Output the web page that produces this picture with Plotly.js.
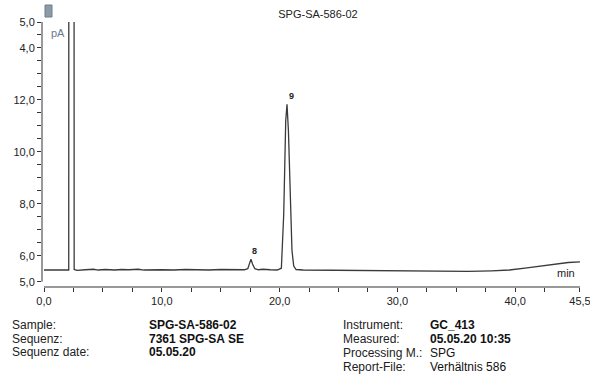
<!DOCTYPE html>
<html>
<head>
<meta charset="utf-8">
<script src="https://cdn.plot.ly/plotly-3.0.1.min.js"></script>
<style>
html,body{margin:0;padding:0;background:#fff;}
#chart{width:590px;height:374px;}
</style>
</head>
<body>
<div id="chart"></div>
<script>
// ---- data ----
const chartTitle = "SPG-SA-586-02";
const timeMin = [0.0, 1.0, 2.1, 2.13, 2.52, 2.56, 2.8, 3.5, 4.2, 4.6, 5.2, 6.0, 6.6, 7.2, 8.0, 8.5, 9.3, 10.0, 11.0, 12.0, 13.0, 14.0, 15.0, 16.0, 17.0, 17.3, 17.45, 17.57, 17.7, 17.9, 18.2, 18.6, 19.2, 19.8, 20.15, 20.35, 20.52, 20.63, 20.75, 20.9, 21.05, 21.2, 21.4, 22.0, 24.0, 26.0, 28.0, 30.0, 32.0, 34.0, 36.0, 38.0, 39.5, 41.0, 42.5, 43.5, 44.5, 45.5];
const signalPA = [5.45, 5.45, 5.45, 60.0, 60.0, 5.47, 5.44, 5.46, 5.48, 5.45, 5.47, 5.45, 5.47, 5.46, 5.48, 5.45, 5.47, 5.46, 5.45, 5.47, 5.46, 5.45, 5.47, 5.46, 5.46, 5.50, 5.72, 5.87, 5.68, 5.50, 5.46, 5.48, 5.46, 5.45, 5.52, 7.60, 11.20, 11.83, 10.80, 8.00, 6.20, 5.60, 5.47, 5.45, 5.44, 5.44, 5.43, 5.42, 5.41, 5.40, 5.40, 5.42, 5.45, 5.53, 5.63, 5.70, 5.74, 5.76];
const peakLabels = ["8", "9"];
const peakTimes = [17.57, 20.63];
const peakHeights = [5.87, 11.83];
const xTickVals = [0, 10, 20, 30, 40, 45.5];
const xTickText = ["0,0", "10,0", "20,0", "30,0", "40,0", "45,5"];
const xMinorVals = [2.5, 5, 7.5, 12.5, 15, 17.5, 22.5, 25, 27.5, 32.5, 35, 37.5, 42.5];
const yTickVals = [5, 6, 8, 10, 12, 14, 15];
const yTickText = ["5,0", "6,0", "8,0", "10,0", "12,0", "4,0", "5,0"];
const yMinorVals = [6.5, 7, 7.5, 8.5, 9, 9.5, 10.5, 11, 11.5, 12.5, 13, 13.5, 14.5];
const infoLeftLabels = ["Sample:", "Sequenz:", "Sequenz date:"];
const infoLeftValues = ["SPG-SA-586-02", "7361 SPG-SA SE", "05.05.20"];
const infoRightLabels = ["Instrument:", "Measured:", "Processing M.:", "Report-File:"];
const infoRightValues = ["GC_413", "05.05.20 10:35", "SPG", "Verhältnis 586"];
const infoRightBold = [true, true, false, false];

// ---- layout helpers (pixel -> paper) ----
const W = 590, H = 374;
const M = {l: 42, r: 4, t: 22, b: 87};
const PW = W - M.l - M.r, PH = H - M.t - M.b;
const px = x => (x - M.l) / PW;
const py = y => 1 - (y - M.t) / PH;

const FONT = "Liberation Sans, Arial, sans-serif";
const XR = [(M.l - 44) / 11.78, (W - M.r - 44) / 11.78];
const YR = [5 - (287 - 281.7) / 26, 15.0];
const xp = v => (v - XR[0]) / (XR[1] - XR[0]);
const yp = v => (v - YR[0]) / (YR[1] - YR[0]);
const AXC = "#333";

// all ticks (major + minor) go through the axes; minor ones have no label
const xAllVals = xTickVals.concat(xMinorVals);
const xAllText = xTickText.concat(xMinorVals.map(() => ""));
const yAllVals = yTickVals.concat(yMinorVals);
const yAllText = yTickText.concat(yMinorVals.map(() => ""));

const annotations = [];
peakLabels.forEach((lab, i) => {
  annotations.push({
    x: peakTimes[i], y: peakHeights[i], xref: "x", yref: "y",
    text: "<b>" + lab + "</b>", showarrow: false,
    xanchor: "center", yanchor: "bottom", xshift: 4, yshift: 1,
    font: {family: FONT, size: 9, color: "#222"}
  });
});

annotations.push({x: px(49), y: py(33), xref: "paper", yref: "paper", text: "pA",
  showarrow: false, xanchor: "left", yanchor: "middle",
  font: {family: FONT, size: 11, color: "#6b7b8c"}});
annotations.push({x: px(577), y: py(273), xref: "paper", yref: "paper", text: "min",
  showarrow: false, xanchor: "right", yanchor: "middle",
  font: {family: FONT, size: 11, color: "#222"}});

infoLeftLabels.forEach((lab, i) => {
  const yy = py(325 + i * 13.5);
  annotations.push({x: px(10), y: yy, xref: "paper", yref: "paper", text: lab,
    showarrow: false, xanchor: "left", yanchor: "middle",
    font: {family: FONT, size: 12, color: "#222"}});
  annotations.push({x: px(147), y: yy, xref: "paper", yref: "paper", text: "<b>" + infoLeftValues[i] + "</b>",
    showarrow: false, xanchor: "left", yanchor: "middle",
    font: {family: FONT, size: 12, color: "#111"}});
});
infoRightLabels.forEach((lab, i) => {
  const yy = py(325 + i * 14);
  annotations.push({x: px(341), y: yy, xref: "paper", yref: "paper", text: lab,
    showarrow: false, xanchor: "left", yanchor: "middle",
    font: {family: FONT, size: 12, color: "#222"}});
  const v = infoRightBold[i] ? "<b>" + infoRightValues[i] + "</b>" : infoRightValues[i];
  annotations.push({x: px(428), y: yy, xref: "paper", yref: "paper", text: v,
    showarrow: false, xanchor: "left", yanchor: "middle",
    font: {family: FONT, size: 12, color: "#111"}});
});

const shapes = [
  {type: "line", xref: "paper", yref: "paper", x0: xp(0), x1: xp(45.5), y0: 0, y1: 0,
   line: {color: AXC, width: 1}},
  {type: "line", xref: "paper", yref: "paper", x0: 0, x1: 0, y0: yp(5), y1: yp(15),
   line: {color: AXC, width: 1}},
  {type: "rect", xref: "paper", yref: "paper", x0: px(45), x1: px(52), y0: py(17), y1: py(5),
   fillcolor: "#8d9ba8", line: {color: "#6f7e8c", width: 1}}
];

const trace = {
  x: timeMin, y: signalPA, type: "scatter", mode: "lines",
  line: {color: "#3a3a3a", width: 1.3}, hoverinfo: "skip"
};

const layout = {
  width: W, height: H,
  margin: M,
  paper_bgcolor: "#fff", plot_bgcolor: "#fff",
  showlegend: false,
  title: {text: chartTitle, x: 318 / W, xanchor: "center", y: 1 - 14 / H, yanchor: "middle",
    font: {family: FONT, size: 11, color: "#222"}},
  xaxis: {
    range: XR,
    showgrid: false, zeroline: false, showline: false,
    tickmode: "array", tickvals: xAllVals, ticktext: xAllText,
    ticks: "outside", ticklen: 4, tickcolor: AXC, tickwidth: 1,
    ticklabeloverflow: "allow",
    tickfont: {family: FONT, size: 11, color: "#222"}
  },
  yaxis: {
    range: YR,
    showgrid: false, zeroline: false, showline: false,
    tickmode: "array", tickvals: yAllVals, ticktext: yAllText,
    ticks: "outside", ticklen: 4, tickcolor: AXC, tickwidth: 1,
    tickfont: {family: FONT, size: 11, color: "#222"}
  },
  annotations: annotations,
  shapes: shapes
};

Plotly.newPlot("chart", [trace], layout, {staticPlot: true, displayModeBar: false});
</script>
</body>
</html>
